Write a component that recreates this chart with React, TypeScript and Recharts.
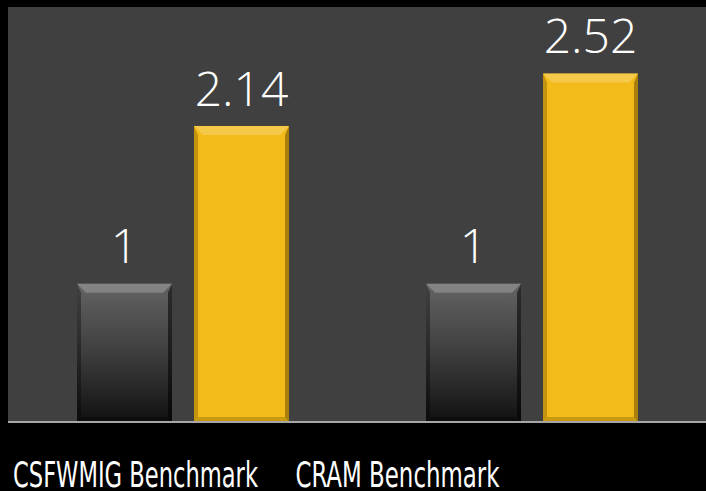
import { BarChart, Bar, XAxis, YAxis, CartesianGrid, LabelList } from 'recharts';

const categories = ['CSFWMIG Benchmark', 'CRAM Benchmark'];
const baselineValues = [1, 1];
const improvedValues = [2.14, 2.52];

const data = categories.map((name, i) => ({
    name,
    baseline: baselineValues[i],
    improved: improvedValues[i],
}));

// the source labels sit left of their category centre
const tickShift = [-47, -134];
const tickWidth = [245, 204];

const BevelBar = (props: any) => {
    const { x, y, width: w, height: h, fill, edge } = props;
    if (!h || h <= 0) return null;
    const t = 9;
    const s = 4;
    return (
        <g>
            <rect x={x} y={y} width={w} height={h} fill={fill} />
            <polygon
                points={`${x},${y} ${x + w},${y} ${x + w - t},${y + t} ${x + t},${y + t}`}
                fill="#ffffff"
                fillOpacity={0.22}
            />
            <polygon
                points={`${x},${y} ${x + s},${y + t} ${x + s},${y + h - 5} ${x},${y + h}`}
                fill={edge}
                fillOpacity={0.35}
            />
            <polygon
                points={`${x + w},${y} ${x + w - s},${y + t} ${x + w - s},${y + h - 5} ${x + w},${y + h}`}
                fill={edge}
                fillOpacity={0.55}
            />
            <polygon
                points={`${x},${y + h} ${x + s},${y + h - 5} ${x + w - s},${y + h - 5} ${x + w},${y + h}`}
                fill={edge}
                fillOpacity={0.3}
            />
        </g>
    );
};

const CategoryTick = (props: any) => {
    const { x, y, payload, index } = props;
    return (
        <text
            x={x + tickShift[index]}
            y={y + 57}
            textAnchor="middle"
            fill="#ffffff"
            fontSize={35}
            fontFamily="'Liberation Sans Narrow', 'DejaVu Sans Condensed', 'Noto Sans', sans-serif"
            textLength={tickWidth[index]}
            lengthAdjust="spacingAndGlyphs"
        >
            {payload.value}
        </text>
    );
};

const labelStyle = {
    fill: '#ffffff',
    fontSize: 48,
    fontFamily: "'Open Sans', 'Noto Sans', sans-serif",
    fontWeight: 300,
};

export default function App() {
    return (
        <div style={{ position: 'absolute', left: 0, top: 0, width: 706, height: 491, background: '#000000' }}>
            <BarChart
                width={706}
                height={491}
                data={data}
                margin={{ top: 7, right: 0, left: 8, bottom: 0 }}
                barSize={95}
                barGap={22}
            >
                <defs>
                    <linearGradient id="grayFill" x1="0" y1="0" x2="0" y2="1">
                        <stop offset="0%" stopColor="#636363" />
                        <stop offset="45%" stopColor="#424242" />
                        <stop offset="100%" stopColor="#111111" />
                    </linearGradient>
                </defs>
                <CartesianGrid fill="#404040" stroke="none" horizontal={false} vertical={false} />
                <XAxis
                    dataKey="name"
                    height={69}
                    axisLine={{ stroke: '#a6a6a6', strokeWidth: 2 }}
                    tickLine={false}
                    tick={<CategoryTick />}
                    interval={0}
                />
                <YAxis hide domain={[0, 3]} />
                <Bar
                    dataKey="baseline"
                    fill="url(#grayFill)"
                    shape={(p: any) => <BevelBar {...p} fill="url(#grayFill)" edge="#000000" />}
                    isAnimationActive={false}
                >
                    <LabelList dataKey="baseline" position="top" offset={21} style={labelStyle} />
                </Bar>
                <Bar
                    dataKey="improved"
                    fill="#f3bb19"
                    shape={(p: any) => <BevelBar {...p} fill="#f3bb19" edge="#6b4e00" />}
                    isAnimationActive={false}
                >
                    <LabelList dataKey="improved" position="top" offset={20} style={labelStyle} />
                </Bar>
            </BarChart>
        </div>
    );
}
